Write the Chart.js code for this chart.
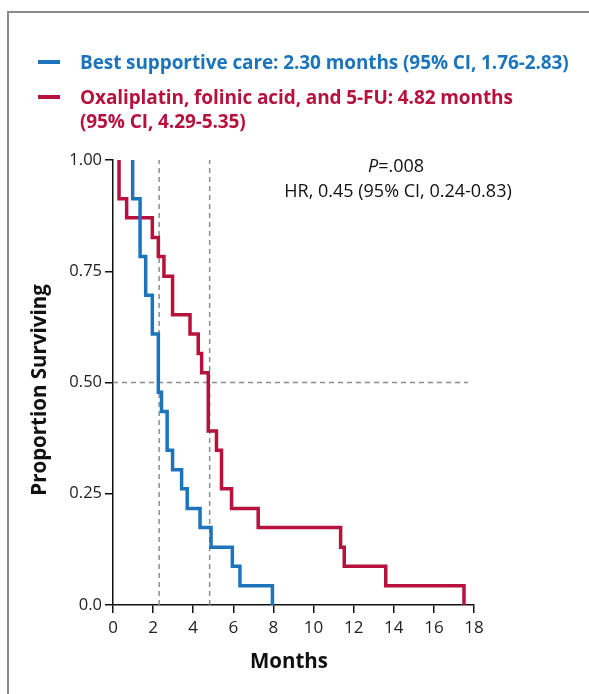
<!DOCTYPE html>
<html>
<head>
<meta charset="utf-8">
<script src="https://cdn.jsdelivr.net/npm/chart.js@4/dist/chart.umd.min.js"></script>
<style>
  html, body { margin: 0; padding: 0; background: #fff; overflow: hidden; }
  #wrap { position: relative; width: 589px; height: 694px; }
  #frame { position: absolute; left: 7px; top: 11px; width: 700px; height: 800px; border: 2px solid #8a8a8a; box-sizing: border-box; }
  #chart { position: absolute; left: 0; top: 0; }
  .leg { position: absolute; left: 80px; font-family: "Open Sans", sans-serif; font-weight: bold; font-size: 19px; line-height: 24px; white-space: nowrap; letter-spacing: -0.1px; }
  .sw { position: absolute; left: 38px; width: 22px; height: 4px; }
</style>
</head>
<body>
<div id="wrap">
  <div id="frame"></div>
  <canvas id="chart" width="589" height="694"></canvas>
  <div class="sw" style="top:60px;background:#1c75bc"></div>
  <div class="leg" style="top:50px;color:#1c75bc">Best supportive care: 2.30 months (95% CI, 1.76-2.83)</div>
  <div class="sw" style="top:95px;background:#b7113e"></div>
  <div class="leg" style="top:85px;color:#b7113e">Oxaliplatin, folinic acid, and 5-FU: 4.82 months<br>(95% CI, 4.29-5.35)</div>
</div>
<script>
// Kaplan-Meier curves (months, proportion surviving)
const bscMonths = [0.98, 0.98, 1.35, 1.63, 1.96, 2.26, 2.42, 2.70, 2.97, 3.42, 3.70, 4.34, 4.89, 5.95, 6.33, 7.95];
const bscSurv   = [1.00, 0.913, 0.783, 0.696, 0.609, 0.478, 0.435, 0.348, 0.304, 0.261, 0.217, 0.174, 0.130, 0.087, 0.043, 0.0];

const folfoxMonths = [0.30, 0.30, 0.68, 1.96, 2.26, 2.54, 2.97, 3.84, 4.25, 4.42, 4.75, 5.16, 5.41, 5.91, 7.24, 11.35, 11.53, 13.60, 17.50];
const folfoxSurv   = [1.00, 0.913, 0.870, 0.826, 0.783, 0.739, 0.652, 0.609, 0.565, 0.522, 0.391, 0.348, 0.261, 0.217, 0.174, 0.130, 0.087, 0.043, 0.0];

const medians = [2.30, 4.82];
const halfLineEnd = 17.7;

const xTicks = [0, 2, 4, 6, 8, 10, 12, 14, 16, 18];
const yTicks = [0, 0.25, 0.5, 0.75, 1];
const yTickLabels = ["0.0", "0.25", "0.50", "0.75", "1.00"];

const blue = "#1c75bc";
const red = "#b7113e";
const dash = "#8c8c8c";

const toPoints = (xs, ys) => xs.map((x, i) => ({ x: x, y: ys[i] }));

const dashed = (pts) => ({
  data: pts,
  borderColor: dash,
  borderWidth: 1.5,
  borderDash: [5, 4],
  pointRadius: 0,
  fill: false,
  order: 2
});

// axis titles and the P / HR note
const textPlugin = {
  id: "texts",
  afterDraw(chart) {
    const ctx = chart.ctx;
    ctx.save();
    ctx.fillStyle = "#111";
    ctx.textAlign = "center";
    ctx.textBaseline = "middle";
    ctx.font = "bold 20.5px 'Open Sans', sans-serif";
    ctx.fillText("Months", 289, 662);
    ctx.translate(40, 390);
    ctx.rotate(-Math.PI / 2);
    ctx.fillText("Proportion Surviving", 0, 0);
    ctx.restore();

    ctx.save();
    ctx.fillStyle = "#111";
    ctx.textBaseline = "middle";
    ctx.textAlign = "left";
    ctx.font = "italic 18px 'Open Sans', sans-serif";
    const pw = ctx.measureText("P").width;
    ctx.font = "18px 'Open Sans', sans-serif";
    const rw = ctx.measureText("=.008").width;
    const sx = 396 - (pw + rw) / 2;
    ctx.font = "italic 18px 'Open Sans', sans-serif";
    ctx.fillText("P", sx, 167);
    ctx.font = "18px 'Open Sans', sans-serif";
    ctx.fillText("=.008", sx + pw, 167);
    ctx.textAlign = "center";
    ctx.fillText("HR, 0.45 (95% CI, 0.24-0.83)", 398, 192);
    ctx.restore();
  }
};

new Chart(document.getElementById("chart"), {
  type: "line",
  data: {
    datasets: [
      {
        data: toPoints(bscMonths, bscSurv),
        borderColor: blue,
        borderWidth: 3.5,
        stepped: "before",
        pointRadius: 0,
        fill: false,
        order: 0
      },
      {
        data: toPoints(folfoxMonths, folfoxSurv),
        borderColor: red,
        borderWidth: 3.5,
        stepped: "before",
        pointRadius: 0,
        fill: false,
        order: 1
      },
      dashed([{ x: medians[0], y: 0 }, { x: medians[0], y: 1 }]),
      dashed([{ x: medians[1], y: 0 }, { x: medians[1], y: 1 }]),
      dashed([{ x: 0, y: 0.5 }, { x: halfLineEnd, y: 0.5 }])
    ]
  },
  options: {
    responsive: false,
    animation: false,
    clip: false,
    layout: { padding: { top: 160, right: 115, left: 0, bottom: 0 } },
    plugins: { legend: { display: false }, tooltip: { enabled: false } },
    scales: {
      x: {
        type: "linear",
        min: 0,
        max: 18,
        afterFit: s => { s.height = 89; },
        afterBuildTicks: s => { s.ticks = xTicks.map(v => ({ value: v })); },
        grid: { drawOnChartArea: false, drawTicks: true, tickLength: 8, color: "#111", lineWidth: 1.5 },
        border: { color: "#111", width: 1.5 },
        ticks: { color: "#222", font: { family: "'Open Sans', sans-serif", size: 17 }, padding: 5, maxRotation: 0 }
      },
      y: {
        min: 0,
        max: 1,
        afterFit: s => { s.width = 113; },
        afterBuildTicks: s => { s.ticks = yTicks.map(v => ({ value: v })); },
        grid: { drawOnChartArea: false, drawTicks: true, tickLength: 8, color: "#111", lineWidth: 1.5 },
        border: { color: "#111", width: 1.5 },
        ticks: {
          color: "#222",
          font: { family: "'Open Sans', sans-serif", size: 16.5 },
          padding: 3,
          callback: v => yTickLabels[yTicks.indexOf(v)]
        }
      }
    }
  },
  plugins: [textPlugin]
});
</script>
</body>
</html>
